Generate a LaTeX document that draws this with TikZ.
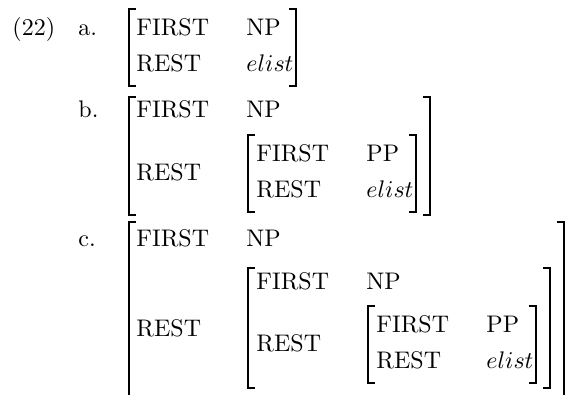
\documentclass[tikz,border=0pt]{standalone}
\newcommand\avmbr[4]{%
  \draw[brk] (#1+7,#3) -- (#1,#3) -- (#1,#4) -- (#1+7,#4);
  \draw[brk] (#2-7,#3) -- (#2,#3) -- (#2,#4) -- (#2-7,#4);}
\begin{document}
\begin{tikzpicture}[x=0.41667pt,y=-0.41667pt,
  lbl/.style={anchor=base west,inner sep=0pt,font=\fontsize{10}{12}\selectfont},
  brk/.style={line width=0.7pt,line cap=butt}]
\useasboundingbox (0,0) rectangle (570,394);
% labels
\node[lbl] (ex) at (12,35) {(22)};
\node[lbl] (la) at (78,35) {a.};
\node[lbl] (lb) at (78,117) {b.};
\node[lbl] (lc) at (78,246) {c.};
% (a)
\node[lbl] (aF)  at (136,35) {FIRST};
\node[lbl] (aFv) at (246,35) {NP};
\node[lbl] (aR)  at (136,71) {REST};
\node[lbl] (aRv) at (246,71) {$elist$};
\avmbr{129}{296}{9}{86}
% (b)
\node[lbl] (bF)  at (136,117) {FIRST};
\node[lbl] (bFv) at (246,117) {NP};
\node[lbl] (bR)  at (136,180) {REST};
\node[lbl] (bbF)  at (256,161) {FIRST};
\node[lbl] (bbFv) at (366,161) {PP};
\node[lbl] (bbR)  at (256,197) {REST};
\node[lbl] (bbRv) at (366,197) {$elist$};
\avmbr{248}{416}{135}{212}
\avmbr{129}{430}{97}{215}
% (c)
\node[lbl] (cF)  at (136,246) {FIRST};
\node[lbl] (cFv) at (246,246) {NP};
\node[lbl] (cR)  at (136,336) {REST};
\node[lbl] (ccF)  at (256,289) {FIRST};
\node[lbl] (ccFv) at (366,289) {NP};
\node[lbl] (ccR)  at (256,351) {REST};
\node[lbl] (cccF)  at (376,332) {FIRST};
\node[lbl] (cccFv) at (486,332) {PP};
\node[lbl] (cccR)  at (376,368) {REST};
\node[lbl] (cccRv) at (486,368) {$elist$};
\avmbr{368}{536}{306}{383}
\avmbr{248}{550}{268}{388}
\avmbr{129}{564}{222}{398}
\end{tikzpicture}
\end{document}
